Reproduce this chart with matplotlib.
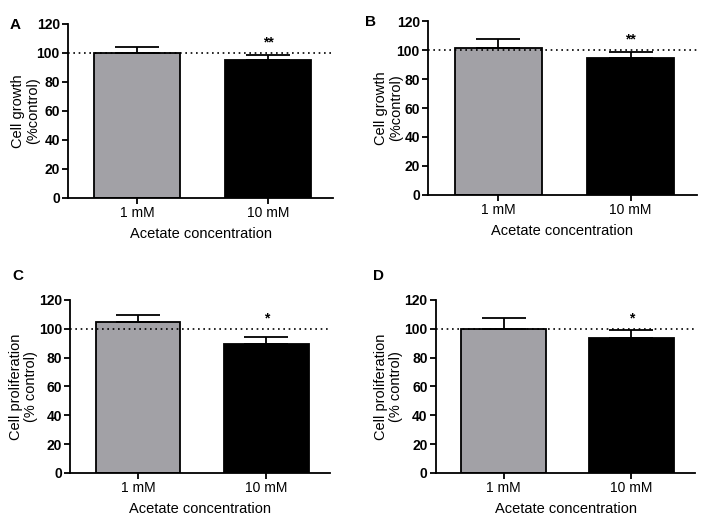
import matplotlib
matplotlib.use("Agg")
import matplotlib.pyplot as plt

plt.rcParams['font.family'] = ['Liberation Sans', 'DejaVu Sans']

conc = ['1 mM', '10 mM']
growth_a = [100.0, 94.9]
growth_a_err = [3.9, 3.5]
growth_b = [101.6, 94.3]
growth_b_err = [5.8, 4.6]
prolif_c = [104.5, 89.1]
prolif_c_err = [4.7, 5.5]
prolif_d = [99.9, 93.9]
prolif_d_err = [7.9, 4.9]
stars = ['**', '**', '*', '*']
letters = ['A', 'B', 'C', 'D']

bar_colors = ['#a2a1a6', '#000000']

# values, errors, y label, axes rect, x of y label (axes coords)
panels = [
    (growth_a, growth_a_err, 'Cell growth\n(%control)', [0.097, 0.618, 0.377, 0.336], -0.106),
    (growth_b, growth_b_err, 'Cell growth\n(%control)', [0.609, 0.624, 0.382, 0.335], -0.093),
    (prolif_c, prolif_c_err, 'Cell proliferation\n(% control)', [0.100, 0.087, 0.370, 0.334], -0.123),
    (prolif_d, prolif_d_err, 'Cell proliferation\n(% control)', [0.620, 0.087, 0.369, 0.334], -0.127),
]

fig = plt.figure(figsize=(7.03, 5.18), dpi=100)

for i, (vals, errs, ylab, rect, labx) in enumerate(panels):
    ax = fig.add_axes(rect)
    x = list(range(len(conc)))
    ax.bar(x, vals, width=0.66, color=bar_colors, edgecolor='black',
           linewidth=1.3, zorder=2)
    ax.errorbar(x, vals, yerr=[[0, 0], errs], fmt='none', ecolor='black',
                elinewidth=1.3, capsize=16, capthick=1.3, zorder=3)
    ax.axhline(100, color='black', linestyle=(0, (1, 2.2)), linewidth=1.2, zorder=4)
    ax.text(1, max(vals[1] + errs[1], 100) + 2.5, stars[i], ha='center',
            va='bottom', fontsize=10, fontweight='bold')
    ax.set_xlim(-0.53, 1.5)
    ax.set_ylim(0, 120)
    ax.set_yticks(range(0, 121, 20))
    ax.set_xticks(x)
    ax.set_xticklabels(conc, fontsize=10)
    for lab in ax.get_yticklabels():
        lab.set_fontweight('bold')
        lab.set_fontsize(10)
    ax.set_xlabel('Acetate concentration', fontsize=10.5, labelpad=5)
    ax.set_ylabel(ylab, fontsize=10.5, linespacing=1.1)
    ax.yaxis.set_label_coords(labx, 0.5)
    for s in ['top', 'right']:
        ax.spines[s].set_visible(False)
    for s in ['left', 'bottom']:
        ax.spines[s].set_linewidth(1.3)
    ax.tick_params(width=1.3, length=4, pad=2)
    fig.text(rect[0] - 0.083 if i % 2 == 0 else rect[0] - 0.09,
             rect[1] + rect[3] + 0.012 if i < 2 else rect[1] + rect[3] + 0.06,
             letters[i], fontsize=11, fontweight='bold', va='top')

fig.savefig('out.png', dpi=100)
